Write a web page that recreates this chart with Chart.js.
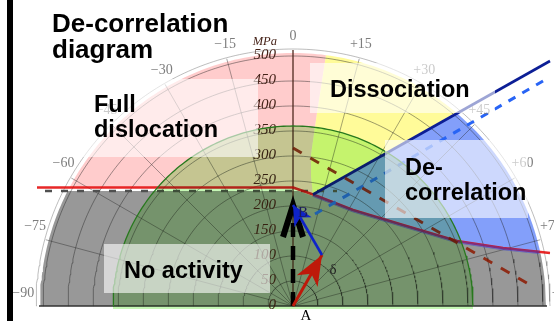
<!DOCTYPE html>
<html>
<head>
<meta charset="utf-8">
<script src="https://cdn.jsdelivr.net/npm/chart.js@4.4.0/dist/chart.umd.min.js"></script>
<style>
  html, body { margin: 0; padding: 0; background: #fff; overflow: hidden; }
  canvas { display: block; }
</style>
</head>
<body>
<canvas id="chart" width="554" height="321"></canvas>
<script>
// ---- Stress axes (MPa) and orientation angles (deg) ----
const ringValues = [50, 100, 150, 200, 250, 300, 350, 400, 450, 500];
const radialTickValues = [0, 50, 100, 150, 200, 250, 300, 350, 400, 450, 500];
const angleTicks = [-90, -75, -60, -45, -30, -15, 0, 15, 30, 45, 60, 75, 90];
const angleTickLabels = ['\u221290', '\u221275', '\u221260', '\u221245', '\u221230', '\u221215', '0',
                         '+15', '+30', '+45', '+60', '+75', '+90'];

// ---- Domain limits (MPa) ----
const outerStress = 506;            // edge of the shaded domains
const activityStress = 360;         // radius of the green "no activity" disc
const fullDislocationStress = 237;  // horizontal full-dislocation threshold
const noActivityStress = 230;       // dashed no-activity level

// ---- De-correlation threshold curve (x: shear, y: normal, MPa) ----
const thresholdX = [0, 40, 120, 220, 328, 420, 514];
const thresholdY = [237, 223, 192, 162, 130, 116, 106];

// ---- Edge between full dislocation and dissociation ----
const dissociationEdgeX = [40, 36, 36, 48, 66];
const dissociationEdgeY = [223, 260, 302, 386, 502];

// ---- Dissociation / de-correlation separating lines ----
const splitLineX = [40, 514];
const splitLineY = [223, 490];
const splitDashX = [44, 512];
const splitDashY = [184, 457];

// ---- Dashed trend line ----
const trendX = [0, 478];
const trendY = [316, 40];

// ---- Stress vectors ----
const pointA = [0, 0];
const pointB = [0, 202];
const pointDelta = [58, 102];

// ---- geometry helpers ----
const P = (x, y) => ({ x, y });
const zip = (xs, ys) => xs.map((x, i) => P(x, ys[i]));
const rad = d => d * Math.PI / 180;
const polar = (r, deg) => P(r * Math.sin(rad(deg)), r * Math.cos(rad(deg)));
const bearing = p => Math.atan2(p.x, p.y) * 180 / Math.PI;
function arc(r, a0, a1, step = 1) {
  const n = Math.max(2, Math.ceil(Math.abs(a1 - a0) / step));
  return Array.from({ length: n + 1 }, (_, i) => polar(r, a0 + (a1 - a0) * i / n));
}
function hitCircle(p0, p1, r) {
  const dx = p1.x - p0.x, dy = p1.y - p0.y;
  const a = dx * dx + dy * dy, b = 2 * (p0.x * dx + p0.y * dy), c = p0.x * p0.x + p0.y * p0.y - r * r;
  const t = (-b + Math.sqrt(b * b - 4 * a * c)) / (2 * a);
  return P(p0.x + t * dx, p0.y + t * dy);
}
function clipInside(pts, r) {
  const out = [];
  for (let i = 0; i < pts.length; i++) {
    const p = pts[i];
    if (Math.hypot(p.x, p.y) <= r) { out.push(p); continue; }
    if (i > 0) out.push(hitCircle(pts[i - 1], p, r));
    break;
  }
  return out;
}
function arrowHead(tail, tip, len, half) {
  const dx = tip.x - tail.x, dy = tip.y - tail.y, L = Math.hypot(dx, dy);
  const ux = dx / L, uy = dy / L, nx = -uy, ny = ux;
  return [
    tip,
    P(tip.x - len * ux + half * nx, tip.y - len * uy + half * ny),
    P(tip.x - 0.72 * len * ux, tip.y - 0.72 * len * uy),
    P(tip.x - len * ux - half * nx, tip.y - len * uy - half * ny)
  ];
}

// ---- derived outlines ----
const R = outerStress;
const threshold = zip(thresholdX, thresholdY);
const J = threshold[1];
const lowerEdge = clipInside(threshold.slice(1).map(p => P(p.x, p.y - 3)), R);
const C = lowerEdge[lowerEdge.length - 1];
const split = zip(splitLineX, splitLineY);
const Q = hitCircle(split[0], split[1], R);
const dissEdge = zip(dissociationEdgeX, dissociationEdgeY);
const T = dissEdge[dissEdge.length - 1];

const grayLeft = P(-Math.sqrt(R * R - noActivityStress * noActivityStress), noActivityStress);
const kneeX = thresholdX[0] + (thresholdX[1] - thresholdX[0]) *
  (thresholdY[0] - 3 - noActivityStress) / (thresholdY[0] - thresholdY[1]);
const grayPts = [...arc(R, -90, bearing(grayLeft)), grayLeft, P(kneeX, noActivityStress),
  ...lowerEdge, ...arc(R, bearing(C), 90)];

const pinkLeft = P(-Math.sqrt(R * R - fullDislocationStress * fullDislocationStress), fullDislocationStress);
const pinkPts = [pinkLeft, P(0, fullDislocationStress), J, ...dissEdge.slice(1),
  ...arc(R, bearing(T), bearing(pinkLeft))];

const yellowPts = [J, ...dissEdge.slice(1), ...arc(R, bearing(T), bearing(Q)), Q];
const bluePts = [J, Q, ...arc(R, bearing(Q), bearing(C)), ...lowerEdge.slice().reverse()];
const greenPts = [...arc(activityStress, -90, 90), P(activityStress, -6), P(-activityStress, -6)];

// ---- datasets, back to front ----
const datasets = [];
let order = 1000;
function add(points, style) {
  datasets.push(Object.assign({ data: points, order: order--, pointRadius: 0, borderWidth: 0, fill: false }, style));
}
const region = color => ({ fill: 'shape', backgroundColor: color });
const stroke = (color, width, dash) => ({ borderColor: color, borderWidth: width, borderDash: dash || [] });

add(grayPts, region('rgb(152,152,152)'));
add(pinkPts, region('rgba(255,0,0,0.2)'));
add(yellowPts, region('rgba(255,245,0,0.4)'));
add(bluePts, region('rgba(30,80,245,0.55)'));

// polar grid
ringValues.forEach(r => add(arc(r, -90, 90), stroke('rgba(35,35,35,0.5)', 0.9)));
add(arc(514, -90, 90), stroke('rgba(120,120,120,0.55)', 0.9));
angleTicks.filter(a => Math.abs(a) < 90 && a !== 0)
  .forEach(a => add([P(0, 0), polar(512, a)], stroke('rgba(35,35,35,0.45)', 0.9)));
add([P(0, 0), P(0, 512)], stroke('rgb(80,40,30)', 1.3));
add([P(-508, 0), P(508, 0)], stroke('rgb(50,50,50)', 1.5));

// thresholds and trend lines
add([P(-496, noActivityStress), P(88, noActivityStress)], stroke('rgb(80,80,80)', 2.5, [7, 9]));
add([P(-512, fullDislocationStress), ...threshold], stroke('rgba(228,10,10,0.88)', 2.6));
add(clipInside(threshold.slice(1).map(p => P(p.x, p.y - 1.5)), R - 2), stroke('rgba(50,60,200,0.5)', 3));
add(zip(splitDashX, splitDashY), stroke('rgb(40,100,245)', 3, [8, 8]));
add(split, stroke('rgb(12,30,150)', 2.6));
add(zip(trendX, trendY), Object.assign(stroke('rgba(140,25,0,0.85)', 3, [10, 10]), { ticksAfter: true }));

// green activity disc (multiplied over the domains)
add(greenPts, Object.assign(region('rgb(197,247,181)'), { blend: 'multiply' }));
add(arc(activityStress, -90, 90), stroke('rgb(40,120,30)', 1.3));

// stress vectors
const A = P(...pointA), B = P(...pointB), D = P(...pointDelta);
add([A, P(B.x, B.y - 6)], stroke('#000', 4.5, [14, 9]));
add([P(-20, 138), B, P(20, 138)], Object.assign(stroke('#000', 6), { borderJoinStyle: 'miter' }));
add([A, D], stroke('rgb(190,25,10)', 3));
add(arrowHead(A, D, 60, 24), region('rgb(190,25,10)'));
add([D, B], stroke('rgb(15,35,200)', 2.6));
add(arrowHead(D, B, 40, 20), region('rgb(15,35,200)'));

// ---- overlay drawing: tick labels, text boxes, captions ----
function drawRadialTicks(chart) {
  const { ctx, scales: { x, y } } = chart;
  const right = x.getPixelForValue(0) - 17;
  ctx.save();
  ctx.fillStyle = 'rgb(70,35,25)';
  ctx.font = 'italic 15px "Liberation Serif", serif';
  ctx.textAlign = 'right';
  ctx.textBaseline = 'middle';
  radialTickValues.forEach(v => ctx.fillText(String(v), right, y.getPixelForValue(v) - 1));
  ctx.font = 'italic 12.5px "Liberation Serif", serif';
  ctx.fillText('MPa', right + 1, 42);
  ctx.restore();
}

function drawOverlay(chart) {
  const { ctx, scales: { x, y } } = chart;
  ctx.save();
  ctx.globalCompositeOperation = 'source-over';

  // orientation labels round the half disc
  ctx.fillStyle = 'rgb(125,125,125)';
  ctx.font = '14px "Liberation Serif", serif';
  ctx.textAlign = 'center';
  ctx.textBaseline = 'middle';
  angleTicks.forEach((a, i) => {
    const p = polar(540, a * 0.97);
    ctx.fillText(angleTickLabels[i], x.getPixelForValue(p.x), y.getPixelForValue(p.y));
  });

  // translucent label boxes
  ctx.fillStyle = 'rgba(255,255,255,0.6)';
  [[80, 79, 178, 78], [310, 63, 185, 50], [385, 140, 143, 78], [104, 244, 166, 49]]
    .forEach(([bx, by, bw, bh]) => ctx.fillRect(bx, by, bw, bh));

  // zone names
  ctx.fillStyle = '#000';
  ctx.textAlign = 'left';
  ctx.textBaseline = 'alphabetic';
  ctx.font = 'bold 23.5px "Liberation Sans", Arial, sans-serif';
  ctx.fillText('Full', 94, 112);
  ctx.fillText('dislocation', 94, 137);
  ctx.fillText('Dissociation', 330, 97);
  ctx.fillText('De-', 405, 175);
  ctx.fillText('correlation', 405, 200);
  ctx.fillText('No activity', 124, 278);

  // title
  ctx.font = 'bold 26px "Liberation Sans", Arial, sans-serif';
  ctx.fillText('De-correlation', 52, 32);
  ctx.fillText('diagram', 52, 58);

  // vector labels
  ctx.font = '15px "Liberation Serif", serif';
  ctx.textAlign = 'center';
  ctx.textBaseline = 'middle';
  ctx.fillStyle = '#1a1a5a';
  ctx.fillText('B', 303, 213);
  ctx.fillStyle = '#222';
  ctx.fillText('\u03b4', 333, 270);
  ctx.fillStyle = '#000';
  ctx.fillText('A', 306, 316);

  // frame bar on the left
  ctx.fillStyle = '#000';
  ctx.fillRect(7, 0, 6, 321);
  ctx.restore();
}

const overlayPlugin = {
  id: 'overlay',
  beforeDatasetsDraw(chart) { chart.ctx.globalCompositeOperation = 'source-over'; },
  afterDatasetDraw(chart, args) {
    const ds = chart.data.datasets[args.index];
    if (ds.ticksAfter) drawRadialTicks(chart);
    const metas = chart.getSortedVisibleDatasetMetas();
    const pos = metas.indexOf(args.meta);
    const next = pos > 0 ? metas[pos - 1] : null;
    chart.ctx.globalCompositeOperation = (next && chart.data.datasets[next.index].blend) || 'source-over';
  },
  afterDatasetsDraw(chart) { drawOverlay(chart); }
};

new Chart(document.getElementById('chart'), {
  type: 'line',
  data: { datasets },
  options: {
    responsive: false,
    animation: false,
    devicePixelRatio: 1,
    events: [],
    layout: { padding: 0 },
    scales: {
      x: { type: 'linear', min: -586, max: 522, display: false },
      y: { type: 'linear', min: -30, max: 612, display: false }
    },
    plugins: { legend: { display: false }, tooltip: { enabled: false }, filler: { propagate: false } },
    elements: {
      point: { radius: 0, hoverRadius: 0, hitRadius: 0 },
      line: { tension: 0, borderCapStyle: 'butt', borderJoinStyle: 'round' }
    }
  },
  plugins: [overlayPlugin]
});
</script>
</body>
</html>
